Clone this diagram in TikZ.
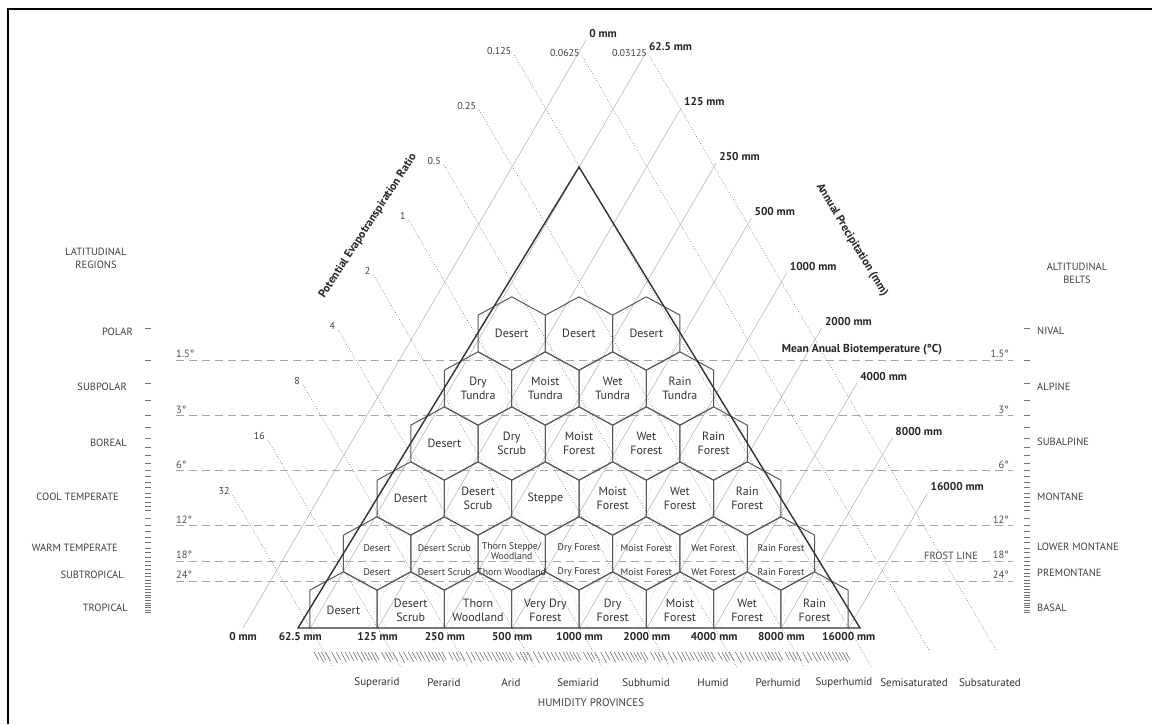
\documentclass[tikz,border=0pt]{standalone}
\usepackage{fontspec}
\setmainfont{PT Sans}
\usetikzlibrary{calc}
\begin{document}
\begin{tikzpicture}[x=1pt,y=-1pt,
  frame/.style={draw=black, line width=2pt},
  tri/.style={draw=black!80, line width=1.4pt, line join=miter},
  hexline/.style={draw=black!65, line width=1pt, line join=round},
  hexcirc/.style={draw=black!32, dotted, line width=0.5pt},
  precline/.style={draw=black!30, line width=0.5pt},
  petline/.style={draw=black!50, dotted, line width=0.7pt},
  templine/.style={draw=black!35, dash pattern=on 8pt off 5pt, line width=0.7pt},
  hticks/.style={draw=black!55, line width=0.6pt},
  sticks/.style={draw=black!55, line width=0.6pt},
  zone/.style={font=\fontsize{12}{14}\selectfont, align=center, text=black!80, inner sep=0pt},
  zonesm/.style={font=\fontsize{9.7}{11}\selectfont, align=center, text=black!80, inner sep=0pt},
  mmlab/.style={font=\bfseries\fontsize{11.3}{13}\selectfont, text=black!85, inner sep=0pt},
  petlab/.style={font=\fontsize{10}{12}\selectfont, text=black!75, inner sep=0pt},
  sidelab/.style={font=\fontsize{10.5}{13}\selectfont, text=black!75, inner sep=0pt},
  templab/.style={font=\fontsize{10.5}{12}\selectfont, text=black!70, inner sep=0pt},
  humlab/.style={font=\fontsize{11}{13}\selectfont, text=black!80, inner sep=0pt},
  axtitle/.style={font=\bfseries\fontsize{11.5}{13}\selectfont, text=black!85, inner sep=0pt}
]
\useasboundingbox (0,0) rectangle (1152,724);
\fill[white] (0,0) rectangle (1152,724);

% frame
\coordinate (fa) at (8,724);
\coordinate (fb) at (8,9);
\coordinate (fc) at (1152,9);
\draw[frame] (fa) -- (fb) -- (fc);

% temperature lines
\foreach \m/\t/\y in {1/1.5/360,2/3/415.5,3/6/470.5,4/12/525.5,5/18/561,6/24/581} {
  \coordinate (tl\m) at (176,\y);
  \coordinate (tr\m) at (1013,\y);
  \draw[templine] (tl\m) -- (tr\m);
  \node[templab, anchor=south west] (tll\m) at ($(tl\m)+(0,-2)$) {\t°};
  \node[templab, anchor=south east] (trl\m) at ($(tr\m)+(-4,-2)$) {\t°};
}

% precipitation lines
\foreach \k/\ye/\txt/\dx in {0/40/0 mm/0,1/53/62.5 mm/-10,2/108/125 mm/0,3/163/250 mm/0,4/218/500 mm/0,5/273/1000 mm/0,6/328/2000 mm/0,7/383/4000 mm/0,8/438/8000 mm/0,9/493/16000 mm/0} {
  \pgfmathsetmacro\xb{243+67.3*\k}
  \pgfmathsetmacro\xt{\xb+0.5835*(628-\ye)}
  \coordinate (pb\k) at (\xb,628);
  \coordinate (pt\k) at (\xt,\ye);
  \draw[precline] (pb\k) -- (pt\k);
  \node[mmlab, anchor=south west] (ptl\k) at ($(pt\k)+(3,-2)$) {\txt};
  \node[mmlab] (pbl\k) at ($(pb\k)+(\dx,9)$) {\txt};
}

% PET ratio lines
\foreach \m/\ys/\ye/\txt in {0/57/650/0.03125,1/57/650/0.0625,2/55/667/0.125,3/110/667/0.25,4/165/667/0.5,5/220/667/1,6/275/667/2,7/330/667/4,8/385/667/8,9/440/667/16,10/495/667/32} {
  \pgfmathsetmacro\xb{983.3-67.3*\m}
  \pgfmathsetmacro\xs{\xb-0.5835*(628-\ys)}
  \pgfmathsetmacro\xe{\xb+0.5835*(\ye-628)}
  \coordinate (es\m) at (\xs,\ys);
  \coordinate (ee\m) at (\xe,\ye);
  \draw[petline] (es\m) -- (ee\m);
  \node[petlab, anchor=east] (el\m) at ($(es\m)+(-3,-4)$) {\txt};
}

% humidity province ticks
\foreach \m in {0,...,7} {
  \foreach \f/\l in {0.06/8,0.12/10,0.17/8,0.23/9,0.32/11,0.39/8,0.46/10,0.52/8,0.58/9,0.64/8,0.70/10,0.76/8,0.81/9,0.86/8,0.91/10,0.96/8} {
    \pgfmathsetmacro\xx{310+67.3*(\m+\f)}
    \coordinate (ht) at (\xx,652);
    \draw[hticks] (ht) -- ++({0.55*\l},\l);
  }
}

% hexagons
\def\HW{33.65}
\def\HH{36.7}
\def\HS{18.35}
\foreach \r in {1,...,6} {
  \pgfmathtruncatemacro\n{9-\r}
  \pgfmathsetmacro\cy{608.5-55*(\r-1)}
  \foreach \i in {1,...,\n} {
    \pgfmathsetmacro\cx{579+(\i-1)*67.3-(\n-1)*33.65}
    \coordinate (h\r-\i) at (\cx,\cy);
    \ifnum\r=1
      \begin{scope}
        \clip (0,0) rectangle (1152,628);
        \draw[hexcirc] (h\r-\i) circle[radius=31];
      \end{scope}
      \draw[hexline] ($(h\r-\i)+(-\HW,{628-\cy})$) -- ($(h\r-\i)+(-\HW,-\HS)$) -- ($(h\r-\i)+(0,-\HH)$) -- ($(h\r-\i)+(\HW,-\HS)$) -- ($(h\r-\i)+(\HW,{628-\cy})$);
    \else
      \draw[hexcirc] (h\r-\i) circle[radius=31];
      \draw[hexline] ($(h\r-\i)+(0,-\HH)$) -- ++(\HW,\HS) -- ++(0,{2*\HS}) -- ++(-\HW,\HS) -- ++(-\HW,-\HS) -- ++(0,{-2*\HS}) -- cycle;
    \fi
  }
}

% triangle
\coordinate (TL) at (298,628);
\coordinate (TR) at (860,628);
\coordinate (TA) at (579,167);
\draw[tri] (TL) -- (TA) -- (TR) -- cycle;

% zone labels
\foreach[count=\i] \txt in {Desert,Desert,Desert} {\node[zone] (z6-\i) at (h6-\i) {\txt};}
\foreach[count=\i] \txt in {{Dry\\Tundra},{Moist\\Tundra},{Wet\\Tundra},{Rain\\Tundra}} {\node[zone] (z5-\i) at (h5-\i) {\txt};}
\foreach[count=\i] \txt in {Desert,{Dry\\Scrub},{Moist\\Forest},{Wet\\Forest},{Rain\\Forest}} {\node[zone] (z4-\i) at (h4-\i) {\txt};}
\foreach[count=\i] \txt in {Desert,{Desert\\Scrub},Steppe,{Moist\\Forest},{Wet\\Forest},{Rain\\Forest}} {\node[zone] (z3-\i) at (h3-\i) {\txt};}
\foreach[count=\i] \txt in {Desert,Desert Scrub,,Dry Forest,Moist Forest,Wet Forest,Rain Forest} {\node[zonesm] (z2a-\i) at ($(h2-\i)+(0,-5.5)$) {\txt};}
\node[zonesm, font=\fontsize{9.7}{10}\selectfont] (z2ts) at ($(h2-3)+(0,-2.5)$) {Thorn Steppe/\\Woodland};
\foreach[count=\i] \txt in {Desert,Desert Scrub,Thorn Woodland,Dry Forest,Moist Forest,Wet Forest,Rain Forest} {\node[zonesm] (z2b-\i) at ($(h2-\i)+(0,18.5)$) {\txt};}
\foreach[count=\i] \txt in {Desert,{Desert\\Scrub},{Thorn\\Woodland},{Very Dry\\Forest},{Dry\\Forest},{Moist\\Forest},{Wet\\Forest},{Rain\\Forest}} {\node[zone] (z1-\i) at ($(h1-\i)+(0,1.5)$) {\txt};}

% axis titles
\node[axtitle] (mab) at (862,350) {Mean Anual Biotemperature (°C)};
\node[axtitle, rotate=57] (petax) at (368,226) {Potential Evapotranspiration Ratio};
\node[axtitle, rotate=-59] (precax) at (852,240) {Annual Precipitation (mm)};
\node[templab] (frost) at (951,556) {FROST LINE};

% side scales
\foreach \t in {1,1.5,...,10,11,12,...,36} {
  \pgfmathsetmacro\yy{360+79.35*ln(\t/1.5)}
  \coordinate (slt) at (145,\yy);
  \coordinate (srt) at (1024,\yy);
  \draw[sticks] (slt) -- ++(6,0);
  \draw[sticks] (srt) -- ++(6,0);
}
\node[sidelab, align=center] (latr) at (96,258) {LATITUDINAL\\REGIONS};
\node[sidelab, align=center] (altb) at (1077,273) {ALTITUDINAL\\BELTS};
\foreach \txt/\x/\y in {POLAR/133/332,SUBPOLAR/127/387,BOREAL/127/443,COOL TEMPERATE/119/497,WARM TEMPERATE/118/548,SUBTROPICAL/124/575,TROPICAL/128/608} {
  \node[sidelab, anchor=east] (lr-\txt) at (\x,\y) {\txt};
}
\foreach \txt/\y in {NIVAL/331,ALPINE/387,SUBALPINE/442,MONTANE/497,LOWER MONTANE/547,PREMONTANE/573,BASAL/608} {
  \node[sidelab, anchor=west] (ab-\txt) at (1037,\y) {\txt};
}

% humidity provinces
\foreach[count=\i] \txt/\xx in {Superarid/377,Perarid/444,Arid/511,Semiarid/578,Subhumid/646,Humid/713,Perhumid/778,Superhumid/844,Semisaturated/914,Subsaturated/990} {
  \node[humlab] (hp\i) at (\xx,683) {\txt};
}
\node[sidelab, font=\fontsize{11}{13}\selectfont] (hprov) at (591,703) {HUMIDITY PROVINCES};
\end{tikzpicture}
\end{document}
